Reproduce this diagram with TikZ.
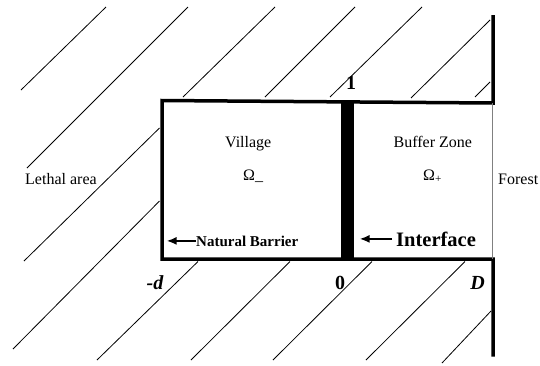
\documentclass[tikz,border=0pt]{standalone}
\usepackage{fontspec}
\setmainfont{Liberation Serif}
\usetikzlibrary{arrows.meta}

\begin{document}
\begin{tikzpicture}[x=1pt,y=-1pt,>={Latex[length=10pt,width=8pt]}]
  \tikzset{
    hatch/.style={line width=0.8pt},
    wall/.style={line width=3.5pt,line join=miter},
    txt/.style={inner sep=0pt,anchor=base west,font=\fontsize{16}{19}\selectfont},
    boldtxt/.style={inner sep=0pt,anchor=base west,font=\fontsize{#1}{#1}\selectfont\bfseries},
    axislbl/.style={inner sep=0pt,anchor=base,font=\fontsize{20}{20}\selectfont\bfseries},
    pointer/.style={line width=2.2pt,->}
  }
  \useasboundingbox (0,0) rectangle (540,365);

  % hatching of the lethal area, segment by segment (x1/y1/x2/y2)
  \foreach \xa/\ya/\xb/\yb in {21/90/106/7, 27/168/188/7, 24/261/159.5/128,
    183/97/275/7, 13/349/159.5/201, 265/97/355/7, 97/360/198/261.5,
    330/97/422/7, 191/360/290/261.5, 411/98/490/20, 273/360/372/261.5,
    475/97/490/82, 366/360/465/261.5, 442/363/491/311}
    \draw[hatch] (\xa,\ya) -- (\xb,\yb);

  % outer walls: forest edge, top, natural barrier, bottom
  \draw[wall] (493,15) -- (493,103) -- (162,100.5) -- (162,259)
    -- (493,259) -- (493,356.5);
  % open side towards the forest
  \draw[gray,line width=0.8pt] (492.5,103) -- (492.5,259);
  % the interface between village and buffer zone
  \fill (341,101) rectangle (354,259);

  % region labels
  \node[txt] (lethal) at (25,184) {Lethal area};
  \node[txt] (village) at (225,147) {Village};
  \node[txt] (omm) at (243,180) {Ω\_};
  \node[txt] (buffer) at (393.5,147) {Buffer Zone};
  \node[txt] (omp) at (423,180) {Ω\textsubscript{+}};
  \node[txt] (forest) at (498,184) {Forest};

  % boundary labels with arrows
  \node[boldtxt=15] (barrier) at (196,246) {Natural Barrier};
  \coordinate (bartip) at (166.5,240);
  \draw[pointer] (barrier.west) -- (barrier.west -| bartip);
  \node[boldtxt=20.5] (iface) at (396,246) {Interface};
  \coordinate (iftip) at (359.5,239);
  \draw[pointer] ([xshift=-4pt]iface.west) -- (iface.west -| iftip);

  % coordinates
  \node[axislbl] (one) at (351,89.5) {1};
  \node[axislbl] (mind) at (155,289) {\itshape -d};
  \node[axislbl] (zero) at (340,289) {0};
  \node[axislbl] (bigd) at (477.5,289) {\itshape D};
\end{tikzpicture}
\end{document}
